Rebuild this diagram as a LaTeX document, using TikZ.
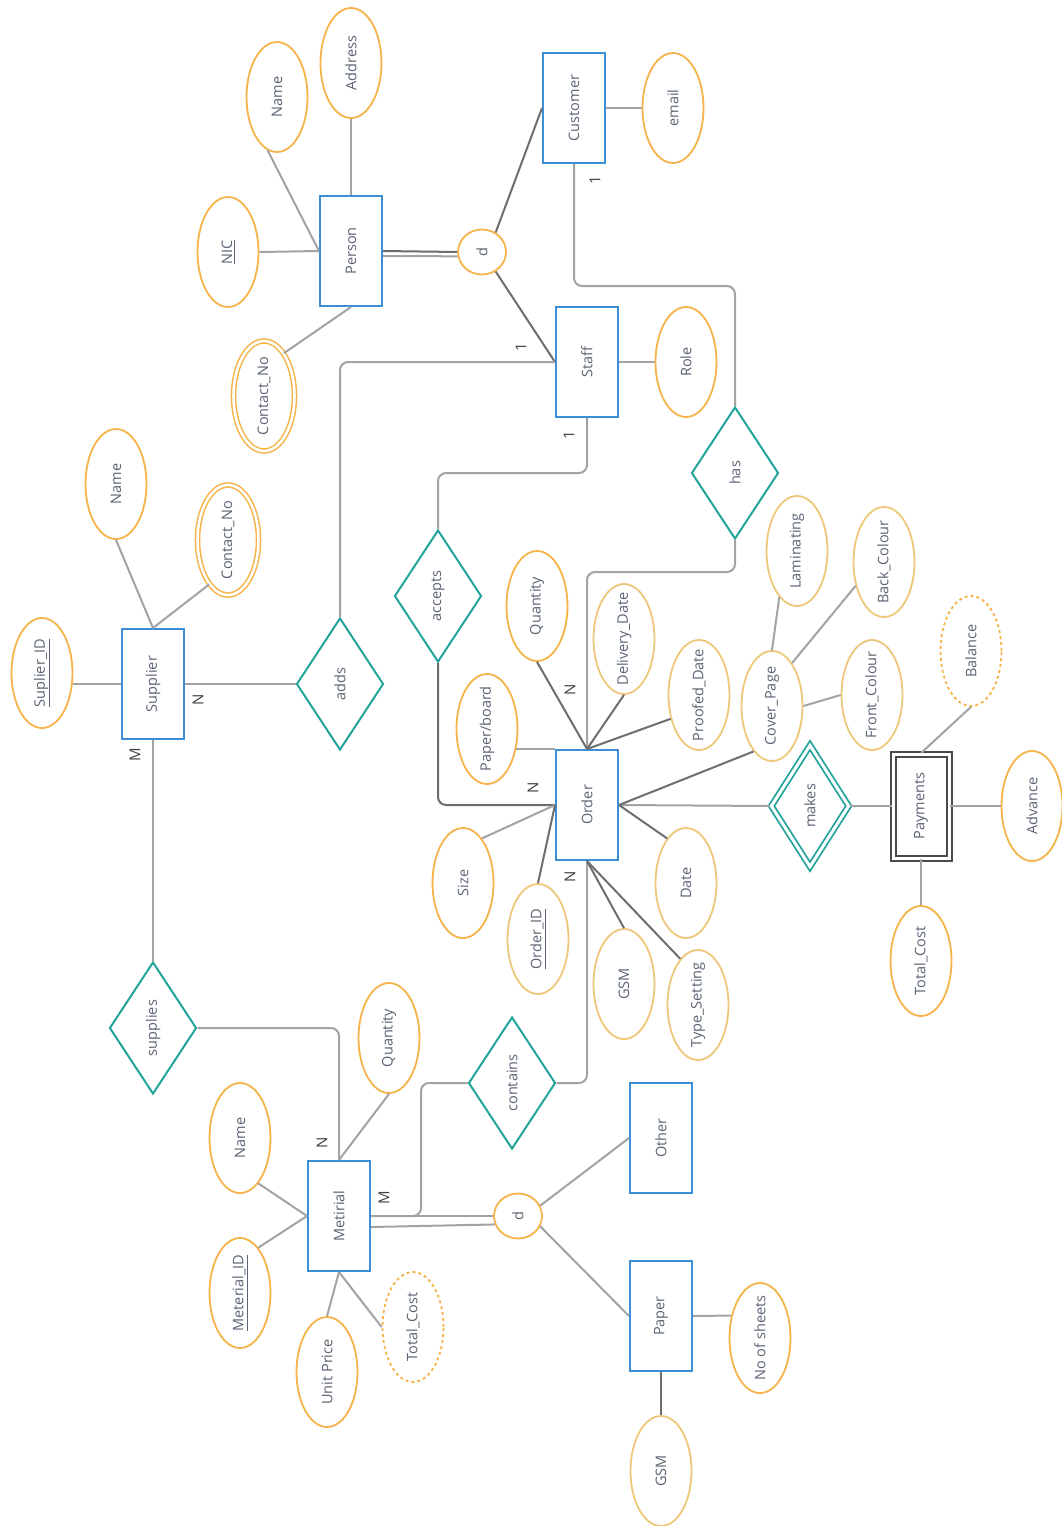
\documentclass[tikz,border=0pt]{standalone}
\usepackage{fontspec}
\setmainfont{Open Sans}
\usetikzlibrary{shapes.geometric}
\definecolor{attrA}{HTML}{F5B349}
\definecolor{attrB}{HTML}{EEC77A}
\definecolor{entC}{HTML}{3A8FD6}
\definecolor{relC}{HTML}{22A39C}
\definecolor{lnL}{HTML}{A3A3A3}
\definecolor{lnD}{HTML}{6E6E6E}
\definecolor{txtC}{HTML}{5B6474}
\definecolor{payC}{HTML}{4A4A4A}
\newcommand\rtx[1]{\rotatebox{90}{\makebox[0pt]{#1}}}
\begin{document}
\begin{tikzpicture}[x=1pt,y=-1pt,
  lblfont/.style={font=\fontsize{14.5}{16}\selectfont, text=txtC},
  attr/.style={ellipse, draw=attrA, line width=1.8pt, fill=white, minimum width=61pt, minimum height=110pt, inner sep=0pt, lblfont},
  attrp/.style={attr, draw=attrB},
  mattr/.style={attr, double=white, double distance=2.6pt, line width=1.5pt},
  dattr/.style={attr, dashed},
  ent/.style={rectangle, draw=entC, line width=2pt, fill=white, minimum width=62pt, minimum height=110pt, inner sep=0pt, lblfont},
  wkent/.style={ent, draw=payC, double=white, double distance=3pt, minimum width=56pt, minimum height=104pt},
  rel/.style={diamond, draw=relC, line width=2pt, fill=white, minimum width=87pt, minimum height=132pt, inner sep=0pt, lblfont},
  wkrel/.style={rel, double=white, double distance=3pt, line width=1.8pt, minimum width=78pt, minimum height=122pt},
  disj/.style={ellipse, draw=attrA, line width=1.8pt, fill=white, minimum width=48pt, minimum height=45pt, inner sep=0pt, lblfont},
  card/.style={font=\fontsize{15}{17}\selectfont, text=black!75, inner sep=0pt},
  ln/.style={draw=lnL, line width=2pt},
  lnd/.style={draw=lnD, line width=2pt}
]
\useasboundingbox (0,0) rectangle (1061,1526);
\fill[white] (0,0) rectangle (1061,1526);

% entities
\node[ent] (Person) at (351,251) {\rtx{Person}};
\node[ent] (Cust) at (574,108) {\rtx{Customer}};
\node[ent] (Staff) at (587,362) {\rtx{Staff}};
\node[ent] (Sup) at (153,684) {\rtx{Supplier}};
\node[ent] (Order) at (587,805) {\rtx{Order}};
\node[ent] (Met) at (339,1216) {\rtx{Metirial}};
\node[ent] (Other) at (661,1138) {\rtx{Other}};
\node[ent] (Paper) at (661,1316) {\rtx{Paper}};
\node[wkent] (Pay) at (921,806) {\rtx{Payments}};

% relationships
\node[rel] (has) at (735,473) {\rtx{has}};
\node[rel] (acc) at (438,596) {\rtx{accepts}};
\node[rel] (adds) at (340,684) {\rtx{adds}};
\node[rel] (supp) at (153,1028) {\rtx{supplies}};
\node[rel] (cont) at (512,1083) {\rtx{contains}};
\node[wkrel] (makes) at (810,806) {\rtx{makes}};

% disjoint circles
\node[disj] (d1) at (482,252) {\rtx{d}};
\node[disj] (d2) at (518,1216) {\rtx{d}};

% Person attributes
\node[attr] (PName) at (277,97) {\rtx{Name}};
\node[attr] (PAddr) at (351,63) {\rtx{Address}};
\node[attr] (PNIC) at (228,252) {\rtx{\underline{NIC}}};
\node[mattr] (PCon) at (264,396) {\rtx{Contact\_No}};
\node[attr] (Email) at (673,108) {\rtx{email}};
\node[attr] (Role) at (686,362) {\rtx{Role}};

% Supplier attributes
\node[attr] (SID) at (42,673) {\rtx{\underline{Suplier\_ID}}};
\node[attr] (SName) at (116,484) {\rtx{Name}};
\node[mattr] (SCon) at (228,540) {\rtx{Contact\_No}};

% Order attributes
\node[attr] (OQty) at (537,606) {\rtx{Quantity}};
\node[attrp] (ODel) at (624,639) {\rtx{Delivery\_Date}};
\node[attrp] (OProof) at (699,695) {\rtx{Proofed\_Date}};
\node[attr] (OPaper) at (487,729) {\rtx{Paper/board}};
\node[attr] (OSize) at (463,883) {\rtx{Size}};
\node[attrp] (OID) at (538,939) {\rtx{\underline{Order\_ID}}};
\node[attrp] (ODate) at (686,883) {\rtx{Date}};
\node[attrp] (OGSM) at (624,984) {\rtx{GSM}};
\node[attrp] (OType) at (698,1005) {\rtx{Type\_Setting}};
\node[attrp] (OCover) at (772,706) {\rtx{Cover\_Page}};
\node[attrp] (Lam) at (797,551) {\rtx{Laminating}};
\node[attrp] (BackC) at (884,562) {\rtx{Back\_Colour}};
\node[attrp] (FrontC) at (872,695) {\rtx{Front\_Colour}};

% Payments attributes
\node[dattr] (Bal) at (971,651) {\rtx{Balance}};
\node[attr] (Adv) at (1032,806) {\rtx{Advance}};
\node[attr] (PTC) at (921,961) {\rtx{Total\_Cost}};

% Metirial attributes
\node[attr] (MName) at (240,1138) {\rtx{Name}};
\node[attr] (MID) at (240,1293) {\rtx{\underline{Meterial\_ID}}};
\node[attr] (MQty) at (389,1038) {\rtx{Quantity}};
\node[attr] (MUnit) at (327,1372) {\rtx{Unit Price}};
\node[dattr] (MTC) at (413,1327) {\rtx{Total\_Cost}};

% Paper attributes
\node[attr] (NoS) at (760,1338) {\rtx{No of sheets}};
\node[attrp] (PGSM) at (661,1471) {\rtx{GSM}};

% connectors: Person
\draw[ln] (PName.-100) -- (Person.west);
\draw[ln] (PNIC.east) -- (Person.west);
\draw[ln] (PAddr.south) -- (Person.north);
\draw[ln] (PCon.65) -- (Person.south);
\draw[lnd] (Person.east) -- (d1.west);
\draw[ln] ([yshift=-5pt]Person.east) -- (d1.190);
\draw[lnd] (d1.55) -- (Cust.west);
\draw[lnd] (d1.-55) -- (Staff.west);
\draw[ln] (Cust.east) -- (Email.west);
\draw[ln] (Staff.east) -- (Role.west);

% relationships paths
\draw[ln, rounded corners=8pt] (Cust.south) -- ++(0,122) -| (has.north);
\draw[ln, rounded corners=8pt] (has.south) -- ++(0,32) -| (Order.north);
\draw[ln, rounded corners=8pt] (Staff.south) -- ++(0,55) -| (acc.north);
\draw[lnd, rounded corners=8pt] (acc.south) |- (Order.west);
\draw[ln, rounded corners=8pt] (Staff.west) -| (adds.north);
\draw[ln] (Sup.east) -- (adds.west);
\draw[ln] (Sup.south) -- (supp.north);
\draw[ln, rounded corners=8pt] (supp.east) -| (Met.north);
\draw[ln, rounded corners=8pt] (cont.east) -| (Order.south);
\draw[ln, rounded corners=8pt] (Met.east) -- ++(50,0) |- (cont.west);
\draw[ln] (Order.east) -- (makes.west);
\draw[ln] (makes.east) -- (Pay.west);

% Supplier attributes
\draw[ln] (Sup.west) -- (Sup.west -| SID.east);
\draw[ln] (SName.south) -- (Sup.north);
\draw[ln] (SCon.247) -- (Sup.north);

% Order attributes
\draw[lnd] (OQty.south) -- (Order.north);
\draw[lnd] (ODel.south) -- (Order.north);
\draw[lnd] (OProof.220) -- (Order.north);
\draw[ln] (Order.north west) -- ([xshift=-2.5pt]Order.north west -| OPaper.east);
\draw[ln] (OSize.67) -- (Order.west);
\draw[lnd] (OID.north) -- (Order.west);
\draw[lnd] (ODate.113) -- (Order.east);
\draw[lnd] (OGSM.north) -- (Order.south);
\draw[lnd] (OType.111) -- (Order.south);
\draw[lnd] (OCover.248) -- (Order.east);
\draw[ln] (Lam.249) -- (OCover.north);
\draw[ln] (BackC.220) -- (OCover.65);
\draw[ln] (FrontC.west) -- (OCover.east);

% Payments attributes
\draw[ln] (Bal.south) -- (Pay.north);
\draw[ln] (Pay.east) -- (Adv.west);
\draw[ln] (Pay.south) -- (PTC.north);

% Metirial attributes
\draw[ln] (MName.-68) -- (Met.west);
\draw[ln] (MID.68) -- (Met.west);
\draw[ln] (MQty.south) -- (Met.north);
\draw[ln] (MUnit.north) -- (Met.south);
\draw[ln] (MTC.west) -- (Met.south);
\draw[ln] (Met.east) -- (d2.west);
\draw[ln] ([yshift=-11pt]Met.east) -- (d2.200);
\draw[ln] (d2.25) -- (Other.west);
\draw[ln] (d2.-25) -- (Paper.west);
\draw[ln] (Paper.east) -- (NoS.142);
\draw[lnd] (Paper.south) -- (PGSM.north);

% cardinalities
\node[card] (k1) at (595,180) {\rtx{1}};
\node[card] (k2) at (521,347) {\rtx{1}};
\node[card] (k3) at (569,435) {\rtx{1}};
\node[card] (k4) at (198,700) {\rtx{N}};
\node[card] (k5) at (135,755) {\rtx{M}};
\node[card] (k6) at (570,690) {\rtx{N}};
\node[card] (k7) at (533,788) {\rtx{N}};
\node[card] (k8) at (570,877) {\rtx{N}};
\node[card] (k9) at (322,1143) {\rtx{N}};
\node[card] (k10) at (384,1198) {\rtx{M}};
\end{tikzpicture}
\end{document}
